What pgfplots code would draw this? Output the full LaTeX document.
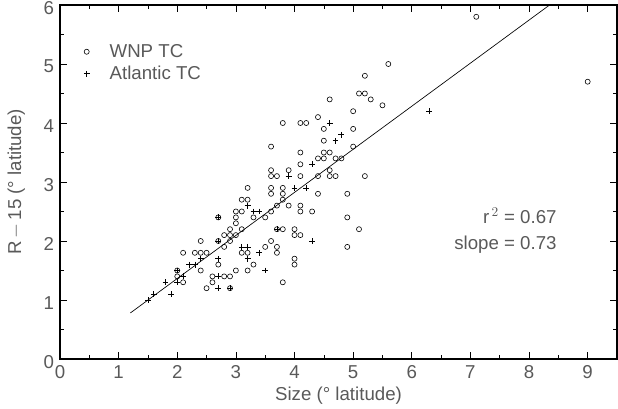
\documentclass[border=0pt]{standalone}
\usepackage{pgfplots}
\pgfplotsset{compat=1.18}
\usepackage{fontspec}
\setmainfont{Liberation Sans}
\definecolor{txt}{gray}{0.35}
\begin{document}
\begin{tikzpicture}
\begin{axis}[
  scale only axis,
  width=417.75pt, height=265.5pt,
  xmin=0, xmax=9.5, ymin=0, ymax=6,
  xtick={0,...,9}, ytick={0,...,6},
  minor x tick num=1, minor y tick num=1,
  tick align=inside,
  major tick length=5pt, minor tick length=3pt,
  every tick/.style={black, line width=0.5pt},
  axis line style={line width=1pt},
  /pgf/number format/assume math mode=true,
  tick label style={font=\fontsize{14}{15}\selectfont, text=txt},
  xticklabel style={yshift=-1.5pt},
  yticklabel style={yshift=-2pt, xshift=-1pt},
  label style={font=\fontsize{14}{15}\selectfont, text=txt},
  xlabel={Size (° latitude)},
  ylabel={R\,$-$\,15 (° latitude)},
  xlabel style={yshift=1pt},
  ylabel style={yshift=7pt},
  legend style={draw=none, fill=none, at={(0.035,0.905)}, anchor=north west,
    font=\fontsize{14}{15}\selectfont, text=txt, row sep=1pt, column sep=13pt},
  legend cell align=left,
]
\addplot[only marks, mark=o, mark size=1.9pt, mark options={line width=0.45pt}] coordinates {
(9.0,4.7) (7.1,5.8) (5.6,5.0) (5.2,4.8) (5.1,4.5) (5.2,4.5) (5.3,4.4) (5.5,4.3)
(4.6,4.4) (5.0,4.2) (4.4,4.1) (5.0,3.9) (4.5,3.9) (4.5,3.7) (5.0,3.6)
(4.1,4.0) (4.2,4.0) (3.8,4.0) (3.6,3.6) (4.1,3.5) (4.5,3.5) (4.6,3.5)
(4.4,3.4) (4.5,3.4) (4.7,3.4) (4.8,3.4) (4.1,3.3) (3.9,3.2) (4.6,3.2) (3.6,3.2)
(5.2,3.1) (3.6,3.1) (3.7,3.1) (4.1,3.1) (4.4,3.1) (4.6,3.1) (4.7,3.1)
(3.2,2.9) (3.6,2.9) (3.8,2.9) (3.6,2.8) (3.8,2.8) (4.4,2.8) (4.9,2.8)
(3.1,2.7) (3.2,2.7) (3.8,2.7) (3.7,2.6) (3.9,2.6) (4.1,2.6)
(3.0,2.5) (3.1,2.5) (3.6,2.5) (4.1,2.5) (4.3,2.5)
(3.3,2.4) (3.5,2.4) (3.0,2.4) (2.7,2.4) (4.9,2.4) (3.0,2.3)
(2.9,2.2) (3.1,2.2) (3.8,2.2) (3.7,2.2) (4.0,2.2) (5.1,2.2)
(2.8,2.1) (2.9,2.1) (3.0,2.1) (4.0,2.1) (4.1,2.1)
(2.4,2.0) (2.7,2.0) (2.9,2.0) (3.6,2.0)
(2.8,1.9) (3.5,1.9) (3.7,1.9) (4.9,1.9)
(2.1,1.8) (2.3,1.8) (2.4,1.8) (2.5,1.8) (3.1,1.8) (3.2,1.8) (3.7,1.8)
(4.0,1.7) (2.7,1.6) (3.3,1.6) (4.0,1.6)
(2.0,1.5) (2.4,1.5) (3.0,1.5) (3.2,1.5)
(2.0,1.4) (2.6,1.4) (2.8,1.4) (2.9,1.4)
(2.1,1.3) (2.6,1.3) (3.8,1.3) (2.5,1.2) (2.9,1.2)
};
\addlegendentry{WNP TC}
\addplot[only marks, mark=+, mark size=2.2pt, mark options={line width=0.5pt}] coordinates {
(6.3,4.2) (4.6,4.0) (4.8,3.8) (4.7,3.7) (4.3,3.3) (3.9,3.1) (4.0,2.9) (4.2,2.9)
(3.2,2.6) (3.3,2.5) (3.4,2.5) (2.7,2.4) (3.7,2.2) (2.7,2.0) (4.3,2.0)
(3.1,1.9) (3.2,1.9) (3.4,1.8) (2.4,1.7) (2.7,1.7) (3.2,1.7) (2.2,1.6) (2.3,1.6)
(3.5,1.5) (2.0,1.5) (1.8,1.3) (2.0,1.3) (2.1,1.4) (2.7,1.4) (2.7,1.2) (2.9,1.2)
(1.9,1.1) (1.6,1.1) (1.5,1.0)
};
\addlegendentry{Atlantic TC}
\addplot[black, line width=0.5pt, no marks, forget plot] coordinates {(1.2,0.78) (8.35,6.0)};
\node[anchor=east, font=\fontsize{14}{15}\selectfont, text=txt] at (axis cs:8.55,2.43) {r$^{\,2}$ = 0.67};
\node[anchor=east, font=\fontsize{14}{15}\selectfont, text=txt] at (axis cs:8.55,1.93) {slope = 0.73};
\end{axis}
\pgfresetboundingbox
\path[use as bounding box] (-45pt,-37.5pt) rectangle (418.5pt,269.25pt);
\end{tikzpicture}
\end{document}
